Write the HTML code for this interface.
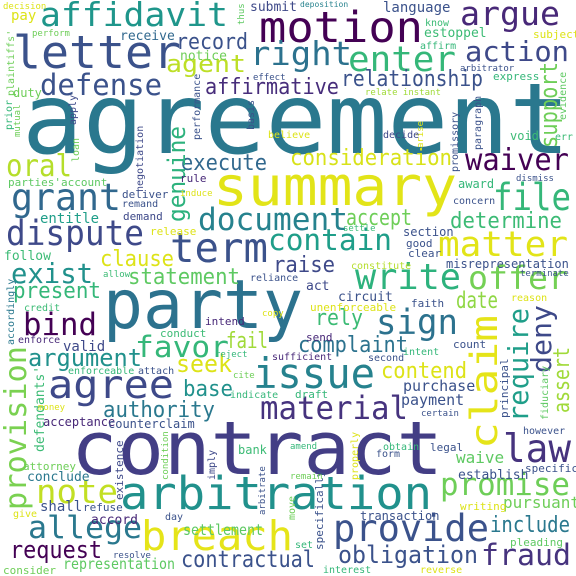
<!DOCTYPE html>
<html><head><meta charset="utf-8"><style>
html,body{margin:0;padding:0;background:#fff;}
svg{display:block;}
text{font-family:"DejaVu Sans Mono","Liberation Mono",monospace;}
</style></head><body>
<svg width="576" height="576" viewBox="0 0 576 576" xmlns="http://www.w3.org/2000/svg">
<rect width="576" height="576" fill="#fff"/>
<g>
<text x="22" y="153" font-size="98" fill="#2a788e" textLength="548" lengthAdjust="spacingAndGlyphs">agreement</text>
<text x="71" y="474" font-size="74" fill="#433e85" textLength="372" lengthAdjust="spacingAndGlyphs">contract</text>
<text x="103" y="328" font-size="68" fill="#2c728e" textLength="200" lengthAdjust="spacingAndGlyphs">party</text>
<text x="213" y="205" font-size="54" fill="#e2e418" textLength="244" lengthAdjust="spacingAndGlyphs">summary</text>
<text x="120" y="509" font-size="45" fill="#21918c" textLength="312" lengthAdjust="spacingAndGlyphs">arbitration</text>
<text x="141" y="550" font-size="41" fill="#e5e419" textLength="152" lengthAdjust="spacingAndGlyphs">breach</text>
<text x="253" y="388" font-size="42" fill="#26828e" textLength="122" lengthAdjust="spacingAndGlyphs">issue</text>
<text x="259" y="42" font-size="43" fill="#440154" textLength="164" lengthAdjust="spacingAndGlyphs">motion</text>
<text x="13" y="68" font-size="45" fill="#3b528b" textLength="168" lengthAdjust="spacingAndGlyphs">letter</text>
<text x="170" y="262" font-size="41" fill="#3b528b" textLength="98" lengthAdjust="spacingAndGlyphs">term</text>
<text x="40" y="26" font-size="33" fill="#1f968b" textLength="188" lengthAdjust="spacingAndGlyphs">affidavit</text>
<text x="250" y="65" font-size="33" fill="#2c728e" textLength="102" lengthAdjust="spacingAndGlyphs">right</text>
<text x="348" y="71" font-size="35" fill="#35b779" textLength="108" lengthAdjust="spacingAndGlyphs">enter</text>
<text x="460" y="25" font-size="33" fill="#482878" textLength="100" lengthAdjust="spacingAndGlyphs">argue</text>
<text x="465" y="61" font-size="28" fill="#3e4989" textLength="104" lengthAdjust="spacingAndGlyphs">action</text>
<text x="40" y="95" font-size="29" fill="#3b528b" textLength="122" lengthAdjust="spacingAndGlyphs">defense</text>
<text x="166" y="72" font-size="24" fill="#bddf26" textLength="80" lengthAdjust="spacingAndGlyphs">agent</text>
<text x="176" y="49" font-size="22" fill="#3b528b" textLength="72" lengthAdjust="spacingAndGlyphs">record</text>
<text x="205" y="94" font-size="22" fill="#472d7b" textLength="134" lengthAdjust="spacingAndGlyphs">affirmative</text>
<text x="341" y="86" font-size="22" fill="#3b528b" textLength="142" lengthAdjust="spacingAndGlyphs">relationship</text>
<text x="6" y="176" font-size="30" fill="#b5de2b" textLength="66" lengthAdjust="spacingAndGlyphs">oral</text>
<text x="181" y="170" font-size="22" fill="#31688e" textLength="86" lengthAdjust="spacingAndGlyphs">execute</text>
<text x="290" y="165" font-size="22" fill="#d8e219" textLength="162" lengthAdjust="spacingAndGlyphs">consideration</text>
<text x="465" y="170" font-size="30" fill="#440154" textLength="104" lengthAdjust="spacingAndGlyphs">waiver</text>
<text x="11" y="210" font-size="37" fill="#31688e" textLength="110" lengthAdjust="spacingAndGlyphs">grant</text>
<text x="198" y="230" font-size="31" fill="#26828e" textLength="150" lengthAdjust="spacingAndGlyphs">document</text>
<text x="493" y="210" font-size="37" fill="#35b779" textLength="78" lengthAdjust="spacingAndGlyphs">file</text>
<text x="346" y="225" font-size="22" fill="#6ece58" textLength="66" lengthAdjust="spacingAndGlyphs">accept</text>
<text x="450" y="228" font-size="22" fill="#3cbb75" textLength="112" lengthAdjust="spacingAndGlyphs">determine</text>
<text x="6" y="245" font-size="35" fill="#3e4989" textLength="138" lengthAdjust="spacingAndGlyphs">dispute</text>
<text x="268" y="250" font-size="29" fill="#1f9e89" textLength="124" lengthAdjust="spacingAndGlyphs">contain</text>
<text x="438" y="256" font-size="35" fill="#e2e418" textLength="130" lengthAdjust="spacingAndGlyphs">matter</text>
<text x="100" y="266" font-size="22" fill="#dde318" textLength="74" lengthAdjust="spacingAndGlyphs">clause</text>
<text x="273" y="272" font-size="22" fill="#3e4989" textLength="62" lengthAdjust="spacingAndGlyphs">raise</text>
<text x="11" y="283" font-size="28" fill="#21918c" textLength="82" lengthAdjust="spacingAndGlyphs">exist</text>
<text x="128" y="284" font-size="22" fill="#5ec962" textLength="112" lengthAdjust="spacingAndGlyphs">statement</text>
<text x="355" y="289" font-size="36" fill="#2db27d" textLength="106" lengthAdjust="spacingAndGlyphs">write</text>
<text x="468" y="289" font-size="32" fill="#74d055" textLength="100" lengthAdjust="spacingAndGlyphs">offer</text>
<text x="13" y="298" font-size="22" fill="#35b779" textLength="88" lengthAdjust="spacingAndGlyphs">present</text>
<text x="23" y="335" font-size="31" fill="#440154" textLength="74" lengthAdjust="spacingAndGlyphs">bind</text>
<text x="135" y="357" font-size="29" fill="#35b779" textLength="94" lengthAdjust="spacingAndGlyphs">favor</text>
<text x="226" y="348" font-size="22" fill="#a0da39" textLength="42" lengthAdjust="spacingAndGlyphs">fail</text>
<text x="456" y="308" font-size="23" fill="#8fd744" textLength="42" lengthAdjust="spacingAndGlyphs">date</text>
<text x="376" y="334" font-size="35" fill="#2c728e" textLength="82" lengthAdjust="spacingAndGlyphs">sign</text>
<text x="315" y="325" font-size="22" fill="#3cbb75" textLength="48" lengthAdjust="spacingAndGlyphs">rely</text>
<text x="28" y="366" font-size="24" fill="#21918c" textLength="114" lengthAdjust="spacingAndGlyphs">argument</text>
<text x="176" y="372" font-size="24" fill="#dde318" textLength="56" lengthAdjust="spacingAndGlyphs">seek</text>
<text x="298" y="352" font-size="22" fill="#2c728e" textLength="110" lengthAdjust="spacingAndGlyphs">complaint</text>
<text x="381" y="378" font-size="22" fill="#dde318" textLength="86" lengthAdjust="spacingAndGlyphs">contend</text>
<text x="48" y="398" font-size="39" fill="#3e4989" textLength="126" lengthAdjust="spacingAndGlyphs">agree</text>
<text x="183" y="396" font-size="22" fill="#21918c" textLength="50" lengthAdjust="spacingAndGlyphs">base</text>
<text x="260" y="419" font-size="32" fill="#46337e" textLength="148" lengthAdjust="spacingAndGlyphs">material</text>
<text x="103" y="417" font-size="22" fill="#2a788e" textLength="112" lengthAdjust="spacingAndGlyphs">authority</text>
<text x="403" y="391" font-size="15" fill="#3b528b">purchase</text>
<text x="401" y="405" font-size="15" fill="#3b528b">payment</text>
<text x="503" y="462" font-size="39" fill="#46337e" textLength="68" lengthAdjust="spacingAndGlyphs">law</text>
<text x="36" y="503" font-size="33" fill="#c2df23" textLength="82" lengthAdjust="spacingAndGlyphs">note</text>
<text x="440" y="495" font-size="31" fill="#6ece58" textLength="130" lengthAdjust="spacingAndGlyphs">promise</text>
<text x="28" y="538" font-size="31" fill="#2a788e" textLength="114" lengthAdjust="spacingAndGlyphs">allege</text>
<text x="333" y="541" font-size="37" fill="#3b528b" textLength="156" lengthAdjust="spacingAndGlyphs">provide</text>
<text x="490" y="532" font-size="22" fill="#2a788e" textLength="80" lengthAdjust="spacingAndGlyphs">include</text>
<text x="10" y="558" font-size="24" fill="#440154" textLength="92" lengthAdjust="spacingAndGlyphs">request</text>
<text x="181" y="567" font-size="23" fill="#3b528b" textLength="134" lengthAdjust="spacingAndGlyphs">contractual</text>
<text x="338" y="563" font-size="24" fill="#3b528b" textLength="140" lengthAdjust="spacingAndGlyphs">obligation</text>
<text x="481" y="565" font-size="29" fill="#46337e" textLength="90" lengthAdjust="spacingAndGlyphs">fraud</text>
<text x="63" y="569" font-size="15" fill="#5ec962" textLength="112" lengthAdjust="spacingAndGlyphs">representation</text>
<text x="183" y="535" font-size="15" fill="#5ec962" textLength="80" lengthAdjust="spacingAndGlyphs">settlement</text>
<text x="503" y="508" font-size="16" fill="#6ece58">pursuant</text>
<text x="456" y="463" font-size="16" fill="#5ec962">waive</text>
<text transform="translate(26,510) rotate(-90)" font-size="30" fill="#7ad151" textLength="164" lengthAdjust="spacingAndGlyphs">provision</text>
<text transform="translate(497,449) rotate(-90)" font-size="37" fill="#e5e419" textLength="134" lengthAdjust="spacingAndGlyphs">claim</text>
<text transform="translate(528,422) rotate(-90)" font-size="28" fill="#1f9e89" textLength="114" lengthAdjust="spacingAndGlyphs">require</text>
<text transform="translate(551,373) rotate(-90)" font-size="28" fill="#3e4989" textLength="68" lengthAdjust="spacingAndGlyphs">deny</text>
<text transform="translate(569,413) rotate(-90)" font-size="22" fill="#a0da39" textLength="66" lengthAdjust="spacingAndGlyphs">assert</text>
<text transform="translate(557,148) rotate(-90)" font-size="24" fill="#6ece58" textLength="86" lengthAdjust="spacingAndGlyphs">support</text>
<text transform="translate(185,222) rotate(-90)" font-size="24" fill="#2db27d" textLength="96" lengthAdjust="spacingAndGlyphs">genuine</text>
<text transform="translate(44,452) rotate(-90)" font-size="13" fill="#3cbb75">defendants'</text>
<text transform="translate(14,96) rotate(-90)" font-size="10" fill="#6ece58">plaintiffs'</text>
<text transform="translate(14,345) rotate(-90)" font-size="10" fill="#2a788e">accordingly</text>
<text transform="translate(200,140) rotate(-90)" font-size="10" fill="#3b528b">performance</text>
<text transform="translate(143,192) rotate(-90)" font-size="10" fill="#3e4989">negotiation</text>
<text transform="translate(123,500) rotate(-90)" font-size="11" fill="#3e4989">existence</text>
<text transform="translate(215,480) rotate(-90)" font-size="10" fill="#3e4989">imply</text>
<text transform="translate(458,172) rotate(-90)" font-size="10" fill="#3b528b">promissory</text>
<text transform="translate(481,150) rotate(-90)" font-size="10" fill="#3b528b">paragraph</text>
<text transform="translate(566,120) rotate(-90)" font-size="10" fill="#5ec962">evidence</text>
<text transform="translate(254,130) rotate(-90)" font-size="10" fill="#3b528b">basis</text>
<text transform="translate(76,125) rotate(-90)" font-size="10" fill="#3e4989">apply</text>
<text transform="translate(12,130) rotate(-90)" font-size="10" fill="#35b779">prior</text>
<text transform="translate(20,137) rotate(-90)" font-size="9" fill="#6ece58">mutual</text>
<text transform="translate(79,162) rotate(-90)" font-size="10" fill="#6ece58">loan</text>
<text transform="translate(244,25) rotate(-90)" font-size="9" fill="#5ec962">thus</text>
<text transform="translate(508,418) rotate(-90)" font-size="11" fill="#3b528b">principal</text>
<text transform="translate(548,420) rotate(-90)" font-size="10" fill="#5ec962">fiduciary</text>
<text transform="translate(323,550) rotate(-90)" font-size="11" fill="#3b528b">specifically</text>
<text transform="translate(295,520) rotate(-90)" font-size="10" fill="#6ece58">move</text>
<text transform="translate(265,515) rotate(-90)" font-size="9" fill="#3b528b">arbitrate</text>
<text transform="translate(168,480) rotate(-90)" font-size="9" fill="#6ece58">condition</text>
<text transform="translate(358,480) rotate(-90)" font-size="10" fill="#dde318">properly</text>
<text transform="translate(423,148) rotate(-90)" font-size="9" fill="#dde318">arise</text>
<g font-size="12">
<text x="3" y="9" font-size="9" fill="#dde318">decision</text>
<text x="11" y="20" font-size="14" fill="#dde318">pay</text>
<text x="250" y="11" font-size="13" fill="#3e4989">submit</text>
<text x="300" y="7" font-size="8" fill="#26828e">deposition</text>
<text x="383" y="12" font-size="14" fill="#3b528b">language</text>
<text x="32" y="36" font-size="9" fill="#6ece58">perform</text>
<text x="120" y="40" font-size="13" fill="#31688e">receive</text>
<text x="425" y="26" font-size="10" fill="#3cbb75">know</text>
<text x="424" y="37" font-size="13" fill="#3cbb75">estoppel</text>
<text x="533" y="38" font-size="11" fill="#dde318">subject</text>
<text x="420" y="49" font-size="10" fill="#35b779">affirm</text>
<text x="180" y="60" font-size="13" fill="#6ece58">notice</text>
<text x="460" y="71" font-size="9" fill="#3b528b">arbitrator</text>
<text x="493" y="80" font-size="11" fill="#35b779">express</text>
<text x="253" y="80" font-size="9" fill="#3b528b">effect</text>
<text x="365" y="95" font-size="9" fill="#a0da39">relate instant</text>
<text x="13" y="97" font-size="12" fill="#6ece58">duty</text>
<text x="383" y="138" font-size="10" fill="#3e4989">decide</text>
<text x="510" y="140" font-size="12" fill="#3cbb75">void</text>
<text x="555" y="140" font-size="10" fill="#3cbb75">err</text>
<text x="268" y="138" font-size="10" fill="#dde318">believe</text>
<text x="8" y="186" font-size="11" fill="#5ec962">parties'account</text>
<text x="180" y="182" font-size="11" fill="#482878">rule</text>
<text x="180" y="196" font-size="9" fill="#dde318">induce</text>
<text x="516" y="181" font-size="9" fill="#3b528b">dismiss</text>
<text x="458" y="188" font-size="12" fill="#35b779">award</text>
<text x="122" y="198" font-size="11" fill="#3b528b">deliver</text>
<text x="122" y="207" font-size="10" fill="#3b528b">remand</text>
<text x="453" y="204" font-size="10" fill="#3b528b">concern</text>
<text x="40" y="223" font-size="14" fill="#1f9e89">entitle</text>
<text x="123" y="220" font-size="11" fill="#3e4989">demand</text>
<text x="343" y="231" font-size="9" fill="#3cbb75">settle</text>
<text x="403" y="236" font-size="12" fill="#3b528b">section</text>
<text x="150" y="235" font-size="11" fill="#dde318">release</text>
<text x="406" y="247" font-size="11" fill="#3b528b">good</text>
<text x="408" y="257" font-size="11" fill="#3b528b">clear</text>
<text x="446" y="268" font-size="12" fill="#3b528b">misrepresentation</text>
<text x="4" y="260" font-size="13" fill="#3cbb75">follow</text>
<text x="351" y="269" font-size="10" fill="#b5de2b">constitute</text>
<text x="520" y="276" font-size="9" fill="#3b528b">terminate</text>
<text x="103" y="277" font-size="9" fill="#3cbb75">allow</text>
<text x="250" y="281" font-size="10" fill="#3b528b">reliance</text>
<text x="306" y="290" font-size="13" fill="#3e4989">act</text>
<text x="338" y="301" font-size="13" fill="#3b528b">circuit</text>
<text x="310" y="311" font-size="11" fill="#dde318">unenforceable</text>
<text x="411" y="307" font-size="11" fill="#3b528b">faith</text>
<text x="511" y="301" font-size="10" fill="#dde318">reason</text>
<text x="24" y="311" font-size="10" fill="#3cbb75">credit</text>
<text x="205" y="325" font-size="11" fill="#482878">intend</text>
<text x="262" y="316" font-size="9" fill="#dde318">copy</text>
<text x="160" y="337" font-size="11" fill="#3cbb75">conduct</text>
<text x="306" y="341" font-size="11" fill="#482878">send</text>
<text x="18" y="343" font-size="10" fill="#482878">enforce</text>
<text x="63" y="351" font-size="14" fill="#3e4989">valid</text>
<text x="453" y="348" font-size="11" fill="#3b528b">count</text>
<text x="403" y="355" font-size="10" fill="#35b779">intent</text>
<text x="215" y="357" font-size="9" fill="#35b779">reject</text>
<text x="272" y="360" font-size="10" fill="#482878">sufficient</text>
<text x="368" y="361" font-size="10" fill="#3b528b">second</text>
<text x="68" y="374" font-size="10" fill="#35b779">enforceable</text>
<text x="138" y="374" font-size="10" fill="#3b528b">attach</text>
<text x="233" y="378" font-size="9" fill="#6ece58">cite</text>
<text x="230" y="398" font-size="10" fill="#35b779">indicate</text>
<text x="295" y="398" font-size="11" fill="#35b779">draft</text>
<text x="38" y="410" font-size="9" fill="#dde318">money</text>
<text x="421" y="416" font-size="9" fill="#3b528b">certain</text>
<text x="43" y="426" font-size="12" fill="#482878">acceptance</text>
<text x="108" y="428" font-size="12" fill="#3b528b">counterclaim</text>
<text x="523" y="434" font-size="10" fill="#3b528b">however</text>
<text x="290" y="449" font-size="9" fill="#35b779">amend</text>
<text x="383" y="450" font-size="10" fill="#35b779">obtain</text>
<text x="430" y="451" font-size="11" fill="#3b528b">legal</text>
<text x="238" y="454" font-size="12" fill="#3cbb75">bank</text>
<text x="376" y="457" font-size="10" fill="#3b528b">form</text>
<text x="23" y="470" font-size="11" fill="#6ece58">attorney</text>
<text x="525" y="472" font-size="11" fill="#3b528b">specific</text>
<text x="458" y="479" font-size="13" fill="#3b528b">establish</text>
<text x="290" y="479" font-size="9" fill="#6ece58">remain</text>
<text x="27" y="481" font-size="13" fill="#2a788e">conclude</text>
<text x="460" y="510" font-size="11" fill="#dde318">writing</text>
<text x="40" y="511" font-size="14" fill="#3b528b">shall</text>
<text x="83" y="511" font-size="11" fill="#3b528b">refuse</text>
<text x="13" y="517" font-size="10" fill="#dde318">give</text>
<text x="360" y="520" font-size="12" fill="#3b528b">transaction</text>
<text x="165" y="520" font-size="10" fill="#3b528b">day</text>
<text x="91" y="524" font-size="13" fill="#482878">accord</text>
<text x="510" y="546" font-size="11" fill="#5ec962">pleading</text>
<text x="295" y="548" font-size="10" fill="#35b779">set</text>
<text x="113" y="558" font-size="9" fill="#3b528b">resolve</text>
<text x="323" y="573" font-size="10" fill="#35b779">interest</text>
<text x="420" y="573" font-size="10" fill="#dde318">reverse</text>
<text x="3" y="574" font-size="11" fill="#6ece58">consider</text>
</g>
</g>
</svg>
</body></html>
